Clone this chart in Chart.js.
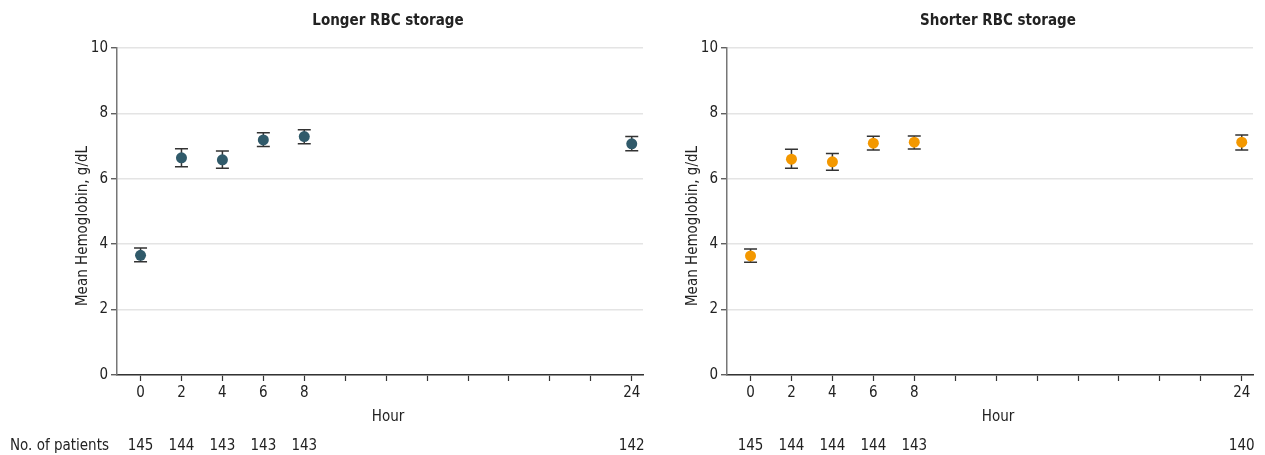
<!DOCTYPE html>
<html>
<head>
<meta charset="utf-8">
<script src="https://cdn.jsdelivr.net/npm/chart.js@4.4.1/dist/chart.umd.min.js"></script>
<style>
  html, body { margin: 0; padding: 0; background: #fff; }
  body { width: 1265px; height: 455px; position: relative; overflow: hidden; }
  .panel { position: absolute; top: 0; height: 455px; }
  #left { left: 0; width: 655px; }
  #right { left: 655px; width: 610px; }
</style>
</head>
<body>
<div class="panel" id="left"><canvas id="chartLeft"></canvas></div>
<div class="panel" id="right"><canvas id="chartRight"></canvas></div>
<script>
// Data
const hours = [0, 2, 4, 6, 8, 24];
const xTickValues = [0, 2, 4, 6, 8, 10, 12, 14, 16, 18, 20, 22, 24];
const xTickLabels = ['0', '2', '4', '6', '8', '', '', '', '', '', '', '', '24'];

const longerMean  = [3.66, 6.64, 6.58, 7.19, 7.29, 7.07];
const longerLower = [3.46, 6.37, 6.32, 6.99, 7.07, 6.86];
const longerUpper = [3.88, 6.92, 6.85, 7.41, 7.50, 7.29];
const longerPatients = [145, 144, 143, 143, 143, 142];

const shorterMean  = [3.64, 6.60, 6.52, 7.09, 7.12, 7.12];
const shorterLower = [3.45, 6.32, 6.26, 6.88, 6.91, 6.88];
const shorterUpper = [3.85, 6.90, 6.77, 7.30, 7.31, 7.34];
const shorterPatients = [145, 144, 144, 144, 143, 140];

const FONT = '"Liberation Sans Narrow", "DejaVu Sans Condensed", "Roboto Condensed", sans-serif';
const TEXT = '#222';

// error bars, titles and the patient-count row, placed with the chart's scales
const extrasPlugin = {
  id: 'extras',
  beforeDatasetsDraw(chart) {
    const o = chart.options.plugins.extras;
    const x = chart.scales.x, y = chart.scales.y;
    const ctx = chart.ctx;
    ctx.save();
    ctx.strokeStyle = '#333';
    ctx.lineWidth = 1.5;
    hours.forEach((h, i) => {
      const px = x.getPixelForValue(h);
      const lo = y.getPixelForValue(o.lower[i]);
      const hi = y.getPixelForValue(o.upper[i]);
      ctx.beginPath();
      ctx.moveTo(px, lo); ctx.lineTo(px, hi);
      ctx.moveTo(px - 6.5, lo); ctx.lineTo(px + 6.5, lo);
      ctx.moveTo(px - 6.5, hi); ctx.lineTo(px + 6.5, hi);
      ctx.stroke();
    });
    ctx.restore();
  },
  afterDraw(chart) {
    const o = chart.options.plugins.extras;
    const area = chart.chartArea;
    const x = chart.scales.x;
    const ctx = chart.ctx;
    const cx = (area.left + area.right) / 2 + 8;
    ctx.save();
    ctx.fillStyle = TEXT;
    ctx.textBaseline = 'middle';
    ctx.textAlign = 'center';
    ctx.font = 'bold 15px ' + FONT;
    ctx.fillText(o.title, cx, 21);
    ctx.font = '15px ' + FONT;
    ctx.fillText('Hour', cx, 417);
    o.patients.forEach((n, i) => {
      ctx.fillText(String(n), x.getPixelForValue(hours[i]), 446);
    });
    if (o.rowLabel) {
      ctx.textAlign = 'left';
      ctx.fillText(o.rowLabel, 10, 446);
    }
    ctx.translate(area.left - 34, 226);
    ctx.rotate(-Math.PI / 2);
    ctx.textAlign = 'center';
    ctx.fillText('Mean Hemoglobin, g/dL', 0, 0);
    ctx.restore();
  }
};

function makeChart(id, title, color, mean, lower, upper, patients, yWidth, rowLabel) {
  return new Chart(document.getElementById(id), {
    type: 'scatter',
    data: {
      datasets: [{
        data: hours.map((h, i) => ({ x: h, y: mean[i] })),
        backgroundColor: color,
        borderColor: color,
        pointRadius: 5.5,
        pointHoverRadius: 5.5,
        borderWidth: 0
      }]
    },
    options: {
      responsive: true,
      maintainAspectRatio: false,
      animation: false,
      layout: { padding: { top: 48, right: 12, bottom: 0, left: 0 } },
      scales: {
        x: {
          type: 'linear',
          min: -1.15,
          max: 24.55,
          afterBuildTicks: s => { s.ticks = xTickValues.map(v => ({ value: v })); },
          afterFit: s => { s.height = 80; },
          ticks: {
            autoSkip: false,
            maxRotation: 0,
            padding: 3,
            color: TEXT,
            font: { family: FONT, size: 15 },
            callback: v => xTickLabels[xTickValues.indexOf(v)]
          },
          grid: { drawOnChartArea: false, tickLength: 6, tickColor: '#333', tickWidth: 1.2 },
          border: { color: '#333', width: 1.5 }
        },
        y: {
          min: 0,
          max: 10,
          afterFit: s => { s.width = yWidth; },
          ticks: {
            stepSize: 2,
            padding: 3,
            color: TEXT,
            font: { family: FONT, size: 15 }
          },
          grid: { color: '#e4e4e4', lineWidth: 1.5, tickLength: 6, tickColor: '#444', tickWidth: 1.2 },
          border: { color: '#777', width: 1.5 }
        }
      },
      plugins: {
        legend: { display: false },
        tooltip: { enabled: false },
        extras: { title, lower, upper, patients, rowLabel }
      }
    },
    plugins: [extrasPlugin]
  });
}

makeChart('chartLeft', 'Longer RBC storage', '#305a6a', longerMean, longerLower, longerUpper, longerPatients, 117, 'No. of patients');
makeChart('chartRight', 'Shorter RBC storage', '#f39800', shorterMean, shorterLower, shorterUpper, shorterPatients, 72, null);
</script>
</body>
</html>
